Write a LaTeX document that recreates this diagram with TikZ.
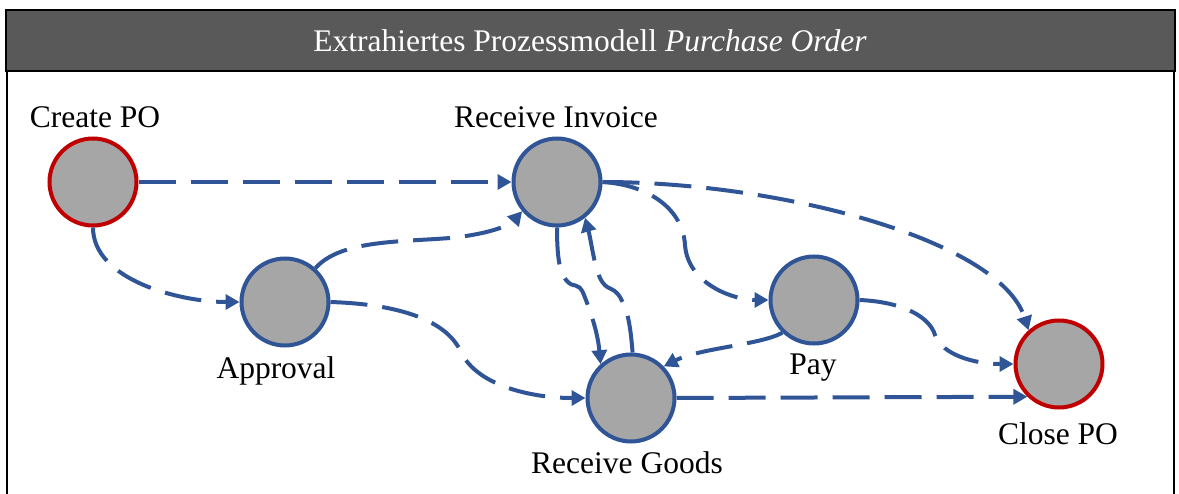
\documentclass[tikz,border=0pt]{standalone}
\usepackage{fontspec}
\setmainfont{Liberation Serif}
\usetikzlibrary{arrows.meta}
\definecolor{flowblue}{HTML}{2F5597}
\definecolor{nodegray}{HTML}{A6A6A6}
\definecolor{endred}{HTML}{C00000}
\definecolor{headgray}{HTML}{595959}
\tikzset{
  act/.style={circle, draw=flowblue, fill=nodegray, line width=4pt, minimum size=87pt, inner sep=0pt},
  startend/.style={act, draw=endred},
  lbl/.style={font=\fontsize{31.5}{37}\selectfont, anchor=base, inner sep=0pt},
  flow/.style={draw=flowblue, line width=4pt, dash pattern=on 37pt off 15pt,
    -{Triangle[length=14pt,width=15pt]}},
  frameline/.style={line width=2pt, draw=black}
}
\begin{document}
\begin{tikzpicture}[x=1pt,y=-1pt]
  \useasboundingbox (0,0) rectangle (1179,494);
  % header bar and frame
  \fill[headgray] (6,10) rectangle (1175,71);
  \draw[frameline] (6,10) rectangle (1175,71);
  \draw[frameline] (7,71) -- (7,494);
  \draw[frameline] (1174,71) -- (1174,494);
  \node[lbl, text=white] (title) at (590,52) {Extrahiertes Prozessmodell \textit{Purchase Order}};

  % activities
  \node[startend] (cpo)   at (93,182)   {};
  \node[act]      (app)   at (285,302)  {};
  \node[act]      (ri)    at (557,182)  {};
  \node[act]      (rg)    at (631,398)  {};
  \node[act]      (pay)   at (814,300)  {};
  \node[startend] (close) at (1059,364) {};

  % labels
  \node[lbl] (lcpo)   at (95,128)   {Create PO};
  \node[lbl] (lri)    at (556,128)  {Receive Invoice};
  \node[lbl] (lapp)   at (276,379)  {Approval};
  \node[lbl] (lrg)    at (627,473)  {Receive Goods};
  \node[lbl] (lpay)   at (813,375)  {Pay};
  \node[lbl] (lclose) at (1058,445) {Close PO};

  % flows
  \draw[flow] (cpo.east) -- (ri.west);
  \draw[flow] (cpo.south) .. controls (93,280) and (180,302) .. (app.west);
  \draw[flow] (app.48) .. controls (340,240) and (400,242) .. (450,238)
                       .. controls (490,234) and (510,225) .. (ri.-140);
  \draw[flow] (app.east) .. controls (420,305) and (450,330) .. (460,350)
                         .. controls (475,385) and (530,398) .. (rg.west);
  \draw[flow] (ri.-90) .. controls (557,260) and (560,272) .. (566,280)
                       .. controls (574,290) and (578,280) .. (584,295)
                       .. controls (592,315) and (598,335) .. (rg.132);
  \draw[flow] (rg.88) .. controls (630,320) and (627,310) .. (620,297)
                      .. controls (612,285) and (607,292) .. (600,278)
                      .. controls (594,265) and (591,240) .. (ri.-52);
  \draw[flow] (ri.east) .. controls (650,185) and (683,210) .. (685,245)
                        .. controls (688,285) and (735,300) .. (pay.west);
  \draw[flow] (ri.east) .. controls (780,182) and (1000,240) .. (close.132);
  \draw[flow] (pay.east) .. controls (905,302) and (930,318) .. (935,335)
                         .. controls (942,355) and (975,364) .. (close.west);
  \draw[flow] (pay.-134) .. controls (760,345) and (700,348) .. (rg.44);
  \draw[flow] (rg.east) -- (close.226);
\end{tikzpicture}
\end{document}
